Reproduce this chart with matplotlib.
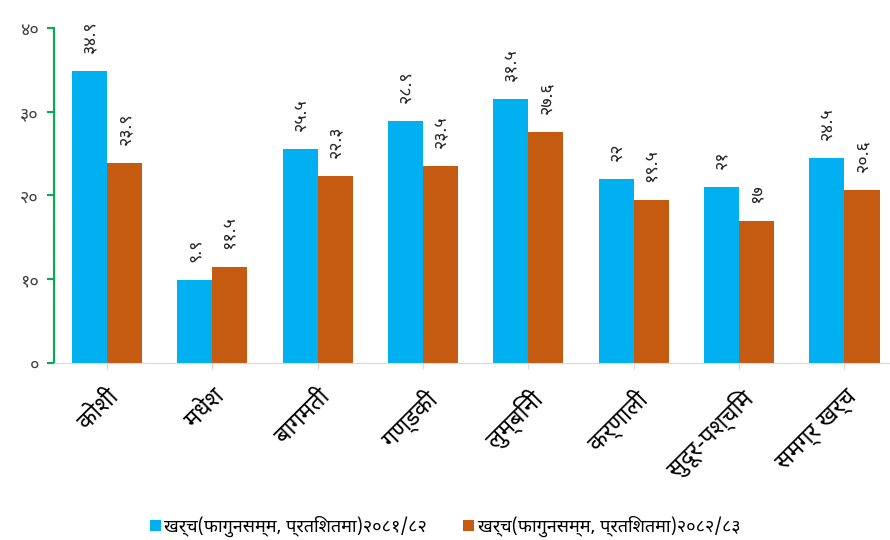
"""Province-wise expenditure share up to Falgun, two fiscal years."""
import matplotlib
matplotlib.use("Agg")
import matplotlib.pyplot as plt
import numpy as np
from matplotlib import font_manager

provinces = ["कोशी", "मधेश", "बागमती", "गण्डकी", "लुम्बिनी", "कर्णाली", "सुदूर-पश्चिम", "समग्र खर्च"]
spend_2081 = [34.9, 9.9, 25.5, 28.9, 31.5, 22, 21, 24.5]
spend_2082 = [23.9, 11.5, 22.3, 23.5, 27.6, 19.5, 17, 20.6]
series_labels = ["खर्च(फागुनसम्म, प्रतिशतमा)२०८१/८२", "खर्च(फागुनसम्म, प्रतिशतमा)२०८२/८३"]
y_ticks = [0, 10, 20, 30, 40]

BLUE = "#00B0F0"
ORANGE = "#C55A11"
GREEN = "#00B050"

DEVA_DIGITS = str.maketrans("0123456789", "०१२३४५६७८९")


def to_deva(value: float) -> str:
    return f"{value:g}".translate(DEVA_DIGITS)


def pick_font() -> list[str]:
    installed = {f.name for f in font_manager.fontManager.ttflist}
    for name in ["Noto Sans Devanagari", "Mukta", "Hind", "Yantramanav", "Poppins", "Anek Devanagari"]:
        if name in installed:
            return [name, "DejaVu Sans"]
    return ["DejaVu Sans"]


plt.rcParams["font.family"] = pick_font()

fig = plt.figure(figsize=(8.9, 5.4), dpi=100)
ax = fig.add_axes([0.061, 0.328, 0.947, 0.62])

x = np.arange(len(provinces))
width = 1 / 3
bars_a = ax.bar(x - width / 2, spend_2081, width, color=BLUE, label=series_labels[0])
bars_b = ax.bar(x + width / 2, spend_2082, width, color=ORANGE, label=series_labels[1])

for bars, values in ((bars_a, spend_2081), (bars_b, spend_2082)):
    for bar, v in zip(bars, values):
        ax.annotate(
            to_deva(v),
            (bar.get_x() + bar.get_width() / 2, bar.get_height()),
            xytext=(0, 13),
            textcoords="offset points",
            ha="center",
            va="bottom",
            rotation=90,
            fontsize=13,
            color="#262626",
        )

ax.set_xlim(-0.5, len(provinces) - 0.5)
ax.set_ylim(0, 40)

ax.set_yticks(y_ticks)
ax.set_yticklabels([to_deva(t) for t in y_ticks], fontsize=13, color="#404040")
ax.tick_params(axis="y", colors=GREEN, labelcolor="#404040", length=5, width=1.5, direction="out", pad=6)

# category ticks sit under each group centre, light grey
ax.set_xticks(x)
ax.set_xticklabels(provinces, rotation=45, ha="right", va="top", rotation_mode="anchor", fontsize=17)
ax.tick_params(axis="x", length=4, color="#D9D9D9", pad=12)

for side in ("top", "right"):
    ax.spines[side].set_visible(False)
ax.spines["left"].set_color(GREEN)
ax.spines["left"].set_linewidth(1.5)
ax.spines["bottom"].set_color("#D9D9D9")

fig.legend(
    handles=[bars_a, bars_b],
    labels=series_labels,
    loc="lower center",
    bbox_to_anchor=(0.5, -0.025),
    ncol=2,
    frameon=False,
    fontsize=13,
    handlelength=0.6,
    handleheight=0.6,
    handletextpad=0.2,
    columnspacing=2.0,
)

fig.savefig("out.png", dpi=100)
